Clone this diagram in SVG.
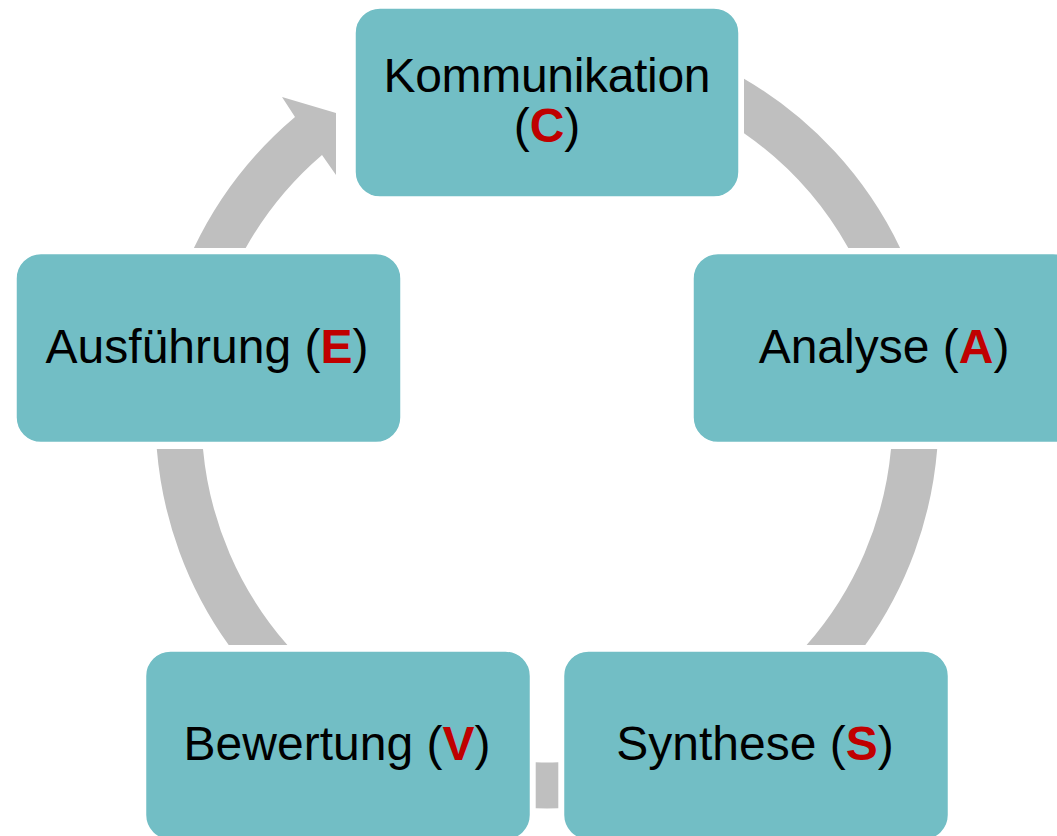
<svg xmlns="http://www.w3.org/2000/svg" width="1057" height="836" viewBox="0 0 1057 836">
  <style>
    .box { fill: #72bec5; stroke: #ffffff; stroke-width: 1.5; }
    .lbl { font-family: "Liberation Sans", Arial, sans-serif; font-size: 48px; fill: #000000; text-anchor: middle; }
    .key { font-weight: bold; fill: #c00000; }
    .arc { fill: #bfbfbf; stroke: none; }
  </style>
  <rect width="1057" height="836" fill="#ffffff"/>
  <g id="connectors">
    <path class="arc" d="M 744 78.7 A 391.5 391.5 0 0 1 900.1 248 L 848.3 248 A 345.5 345.5 0 0 0 744 133.2 Z"/>
    <path class="arc" d="M 937.2 449 A 391.5 391.5 0 0 1 865.3 645 L 806.6 645 A 345.5 345.5 0 0 0 891 449 Z"/>
    <path class="arc" d="M 558.3 808.3 A 391.5 391.5 0 0 1 535.7 808.3 L 535.7 762.3 A 345.5 345.5 0 0 0 558.3 762.3 Z"/>
    <path class="arc" d="M 228.7 645 A 391.5 391.5 0 0 1 156.8 449 L 203 449 A 345.5 345.5 0 0 0 287.4 645 Z"/>
    <path class="arc" d="M 193.9 248 A 391.5 391.5 0 0 1 295 117 L 282 97 L 336 113 L 336 175 L 322 155 A 345.5 345.5 0 0 0 245.7 248 Z"/>
  </g>
  <g id="node-kommunikation">
    <rect class="box" x="355" y="8" width="384" height="189" rx="25" ry="25"/>
    <text class="lbl" x="547" y="92" textLength="327" lengthAdjust="spacing">Kommunikation</text>
    <text class="lbl" x="547" y="142">(<tspan class="key">C</tspan>)</text>
  </g>
  <g id="node-analyse">
    <rect class="box" x="693" y="253.5" width="385" height="189" rx="25" ry="25"/>
    <text class="lbl" x="884" y="363">Analyse (<tspan class="key">A</tspan>)</text>
  </g>
  <g id="node-synthese">
    <rect class="box" x="563.5" y="651" width="385" height="189" rx="25" ry="25"/>
    <text class="lbl" x="755" y="760">Synthese (<tspan class="key">S</tspan>)</text>
  </g>
  <g id="node-bewertung">
    <rect class="box" x="145.5" y="651" width="385" height="189" rx="25" ry="25"/>
    <text class="lbl" x="337" y="760">Bewertung (<tspan class="key">V</tspan>)</text>
  </g>
  <g id="node-ausfuehrung">
    <rect class="box" x="16" y="253.5" width="385" height="189" rx="25" ry="25"/>
    <text class="lbl" x="207" y="363">Ausführung (<tspan class="key">E</tspan>)</text>
  </g>
</svg>
